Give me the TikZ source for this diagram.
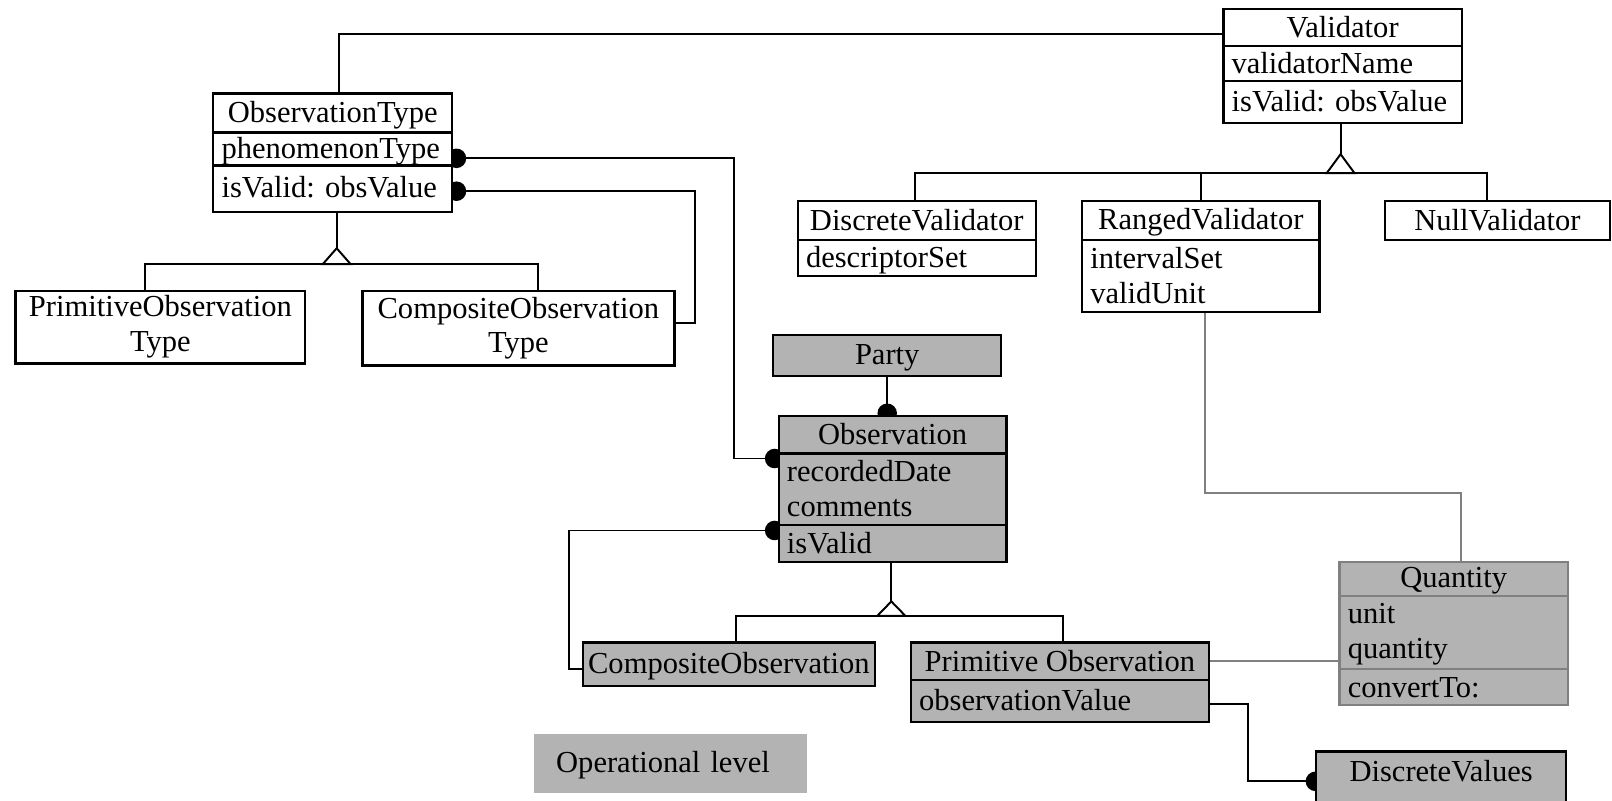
\documentclass[tikz,border=0pt]{standalone}
\usepackage{fontspec}
\setmainfont{Liberation Serif}
\usetikzlibrary{backgrounds}
\definecolor{boxgray}{RGB}{179,179,179}
\definecolor{linegray}{RGB}{128,128,128}
\newcommand\fs{\fontsize{14.85pt}{17pt}\selectfont}
\newcommand\zs{\vrule width0pt height12.1pt depth2.3pt}
\newcommand\zt{\vrule width0pt height10.8pt depth3.6pt}
\hyphenpenalty=10000
\exhyphenpenalty=10000
\tikzset{
 box/.style={draw=black, line width=1.1pt, fill=white, anchor=north west, inner ysep=0pt, outer sep=0pt, font=\fs, execute at begin node=\zs},
 gbox/.style={box, fill=boxgray},
 qbox/.style={box, fill=boxgray, draw=linegray},
 crow/.code 2 args={\pgfmathsetmacro\zrw{#1*0.5}\pgfmathsetmacro\zrh{#2*0.5}\edef\zzz{\noexpand\tikzset{minimum width=\zrw pt, minimum height=\zrh pt, inner xsep=0pt, align=center}}\zzz},
 lrow/.code 2 args={\pgfmathsetmacro\zrw{#1*0.5-8}\pgfmathsetmacro\zrh{#2*0.5}\edef\zzz{\noexpand\tikzset{text width=\zrw pt, minimum height=\zrh pt, inner xsep=4pt, align=left}}\zzz},
 conn/.style={draw=black, line width=0.95pt},
 gconn/.style={draw=linegray, line width=1pt},
 gen/.style={draw=black, line width=0.95pt, fill=white, line join=miter},
}
\begin{document}
\begin{tikzpicture}[x=0.5pt,y=-0.5pt]
\useasboundingbox (0,0) rectangle (1568,779);
\clip (0,0) rectangle (1568,779);
% ObservationType
\node[box, crow={232.5}{38}] (ot1) at (207.5,91) {ObservationType};
\node[box, lrow={232.5}{32}] (ot2) at (207.5,129) {phenomenonType};
\node[box, lrow={232.5}{45}, execute at begin node=\zt] (ot3) at (207.5,161) {isValid:~obsValue};
\node[box, crow={282}{70.5}] (pot) at (15,283) {PrimitiveObservation\\\zs Type};
\node[box, crow={303.5}{72.5}] (cot) at (352.5,283) {CompositeObservation\\\zs Type};
% Validator
\node[box, crow={232}{35.5}] (vt1) at (1190,9) {Validator};
\node[box, lrow={232}{34}] (vt2) at (1190,44.5) {validatorName};
\node[box, lrow={232}{41}] (vt3) at (1190,78.5) {isValid:~obsValue};
\node[box, crow={231.5}{38}] (dv1) at (776,195.5) {DiscreteValidator};
\node[box, lrow={231.5}{35}] (dv2) at (776,233.5) {descriptorSet};
\node[box, crow={231}{38}] (rv1) at (1052.5,195.5) {RangedValidator};
\node[box, lrow={231}{70}] (rv2) at (1052.5,233.5) {intervalSet\\\zs validUnit};
\node[box, crow={219}{38}] (nv) at (1347,195.5) {NullValidator};
% operational classes
\node[gbox, crow={222}{40}] (party) at (752,326) {Party};
\node[gbox, crow={221.5}{36}] (o1) at (757.5,405) {Observation};
\node[gbox, lrow={221.5}{69.5}] (o2) at (757.5,441) {recordedDate\\\zs comments};
\node[gbox, lrow={221.5}{36.5}] (o3) at (757.5,510.5) {isValid};
\node[gbox, crow={284}{42}] (co) at (567,625) {CompositeObservation};
\node[gbox, crow={290}{36.5}] (po1) at (886,625) {Primitive~Observation};
\node[gbox, lrow={290}{40.5}] (po2) at (886,661.5) {observationValue};
\node[qbox, crow={222}{33}] (q1) at (1303,546.5) {Quantity};
\node[qbox, lrow={222}{71}] (q2) at (1303,579.5) {unit\\\zs quantity};
\node[qbox, lrow={222}{35.5}] (q3) at (1303,650.5) {convertTo:};
\node[gbox, minimum width=121.75pt, minimum height=40pt, inner sep=0pt] (dval) at (1280,731) {};
\node[anchor=north, minimum height=19.5pt, inner sep=0pt, outer sep=0pt, font=\fs] (dvalt) at (dval.north) {\zs DiscreteValues};
\node[anchor=north west, fill=boxgray, outer sep=0pt, inner ysep=0pt, inner xsep=10.75pt, text width=111.25pt, align=left, minimum height=28.75pt, font=\fs] (opl) at (519.5,714) {\zs Operational level};
% coordinates
\coordinate (j1) at (330,33);
\coordinate (j2) at (714,154);
\coordinate (j3) at (714,446);
\coordinate (j4) at (676,186);
\coordinate (j5) at (676,314);
\coordinate (j6) at (553,516);
\coordinate (j7) at (553,651);
\coordinate (g1) at (327.5,241.5);
\coordinate (h1a) at (141,257);
\coordinate (h1b) at (523,257);
\coordinate (g2) at (1304,150);
\coordinate (h2a) at (890,168.5);
\coordinate (h2b) at (1168,168.5);
\coordinate (h2c) at (1446,168.5);
\coordinate (g3) at (867,585);
\coordinate (h3a) at (715.5,599);
\coordinate (h3b) at (1034,599);
\coordinate (k1) at (1172,480);
\coordinate (k2) at (1421.5,480);
\coordinate (k3) at (1214,685);
\coordinate (k4) at (1214,760);
\begin{scope}[on background layer]
\draw[conn] (ot1.north -| j1) -- (j1) -- (j1 -| vt1.west);
\draw[conn] (ot2.east |- j2) -- (j2) -- (j3) -- (j3 -| o2.west);
\fill (ot2.east |- j2) ++(4,0) circle[radius=4.75pt];
\fill (j3 -| o2.west) ++(-4,0) circle[radius=4.75pt];
\draw[conn] (ot3.east |- j4) -- (j4) -- (j5) -- (j5 -| cot.east);
\fill (ot3.east |- j4) ++(4,0) circle[radius=4.75pt];
\draw[conn] (party.south) -- (party.south |- o1.north);
\fill (party.south |- o1.north) ++(0,-3) circle[radius=4.75pt];
\draw[conn] (o3.west |- j6) -- (j6) -- (j7) -- (j7 -| co.west);
\fill (o3.west |- j6) ++(-4,0) circle[radius=4.75pt];
% generalizations
\draw[conn] (ot3.south -| g1) -- (g1);
\draw[conn] (h1a |- pot.north) -- (h1a) -- (h1b) -- (h1b |- cot.north);
\draw[gen] (g1) -- ++(-13.6,15.5) -- ++(27.2,0) -- cycle;
\draw[conn] (vt3.south -| g2) -- (g2);
\draw[conn] (h2a |- dv1.north) -- (h2a) -- (h2c) -- (h2c |- nv.north);
\draw[conn] (h2b) -- (h2b |- rv1.north);
\draw[gen] (g2) -- ++(-13.6,18.5) -- ++(27.2,0) -- cycle;
\draw[conn] (o3.south -| g3) -- (g3);
\draw[conn] (h3a |- co.north) -- (h3a) -- (h3b) -- (h3b |- po1.north);
\draw[gen] (g3) -- ++(-13.6,14) -- ++(27.2,0) -- cycle;
% gray associations
\draw[gconn] (rv2.south -| k1) -- (k1) -- (k2) -- (k2 |- q1.north);
\draw[gconn] (po1.east) -- (po1.east -| q2.west);
% discrete values
\draw[conn] (po2.east |- k3) -- (k3) -- (k4) -- (k4 -| dval.west);
\fill (k4 -| dval.west) ++(-0.5,0) circle[radius=4.75pt];
\end{scope}
\end{tikzpicture}
\end{document}
